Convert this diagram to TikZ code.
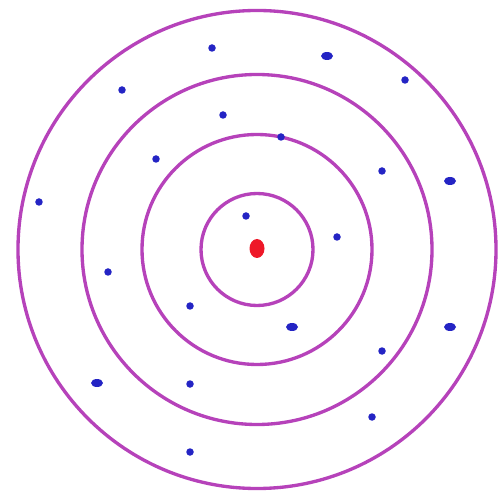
\documentclass[tikz,border=0pt]{standalone}
\definecolor{ringcol}{RGB}{182,66,186}
\definecolor{dotcol}{RGB}{36,36,196}
\definecolor{nucleus}{RGB}{238,24,40}
\begin{document}
\begin{tikzpicture}[scale=1]
            \useasboundingbox (-5.14, -4.95) rectangle (4.86, 4.99);
            \foreach \r in {1.12, 2.3, 3.5, 4.78}
                \draw[ringcol, line width=1.9pt] (0, 0) circle (\r);
            \fill[nucleus] (0, 0.02) ellipse (0.15 and 0.19);
            \foreach \x/\y in {-0.90/4.03, 2.96/3.39, -2.70/3.19, -0.68/2.69,
                0.48/2.25, -2.02/1.81, 2.50/1.57, -4.36/0.95, -0.22/0.67,
                1.60/0.25, -2.98/-0.45, -1.34/-1.13, 2.50/-2.03,
                -1.34/-2.69, 2.30/-3.35, -1.34/-4.05}
                \fill[dotcol] (\x, \y) circle (0.075);
            \foreach \x/\y in {1.40/3.87, 3.86/1.37, 0.70/-1.55, 3.86/-1.55, -3.20/-2.67}
                \fill[dotcol] (\x, \y) ellipse (0.12 and 0.08);
        \end{tikzpicture}
\end{document}
